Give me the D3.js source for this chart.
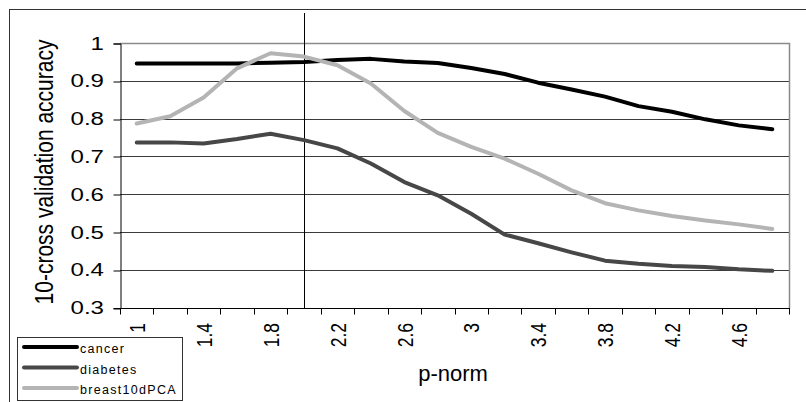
<!DOCTYPE html>
<html>
<head>
<meta charset="utf-8">
<script src="https://cdn.jsdelivr.net/npm/d3@7"></script>
<style>
  body { margin: 0; background: #fff; }
  text { font-family: "Liberation Sans", Arial, sans-serif; fill: #000; }
</style>
</head>
<body>
<div id="chart"></div>
<script>
// data
var pnorm = [1, 1.2, 1.4, 1.6, 1.8, 2, 2.2, 2.4, 2.6, 2.8, 3, 3.2, 3.4, 3.6, 3.8, 4, 4.2, 4.4, 4.6, 4.8];
var cancer = [0.946, 0.946, 0.946, 0.946, 0.948, 0.950, 0.955, 0.958, 0.951, 0.947, 0.934, 0.918, 0.895, 0.877, 0.858, 0.833, 0.818, 0.798, 0.782, 0.772];
var diabetes = [0.737, 0.737, 0.734, 0.746, 0.760, 0.743, 0.721, 0.681, 0.632, 0.597, 0.548, 0.493, 0.470, 0.446, 0.424, 0.416, 0.410, 0.407, 0.401, 0.397];
var breast = [0.787, 0.806, 0.856, 0.933, 0.973, 0.964, 0.941, 0.893, 0.820, 0.762, 0.725, 0.694, 0.654, 0.610, 0.576, 0.557, 0.542, 0.530, 0.520, 0.508];
var yTicks = [0.3, 0.4, 0.5, 0.6, 0.7, 0.8, 0.9, 1];
var seriesNames = ["cancer", "diabetes", "breast10dPCA"];
var markerP = 2; // vertical marker line

var series = [
  {name: seriesNames[0], values: cancer, color: "#000000"},
  {name: seriesNames[1], values: diabetes, color: "#474747"},
  {name: seriesNames[2], values: breast, color: "#b4b4b4"}
];

var width = 806, height = 402;
var margin = {top: 43, right: 17, bottom: 94.5, left: 120};

var svg = d3.select("#chart")
  .append("svg")
    .attr("width", width)
    .attr("height", height);

// outer chart border (runs off the right and bottom edges)
svg.append("rect")
  .attr("x", 9.5).attr("y", 9.5)
  .attr("width", 1000).attr("height", 1000)
  .attr("fill", "none")
  .attr("stroke", "#333");

var x = d3.scaleBand()
  .domain(pnorm)
  .range([margin.left, width - margin.right])
  .padding(0);

var y = d3.scaleLinear()
  .domain([0.3, 1])
  .range([height - margin.bottom, margin.top]);

var cx = d => x(d) + x.bandwidth() / 2;

// gridlines
svg.append("g")
  .selectAll("line")
  .data(yTicks.filter(t => t > 0.3 && t < 1))
  .join("line")
    .attr("x1", margin.left)
    .attr("x2", width - margin.right)
    .attr("y1", d => Math.round(y(d)) + 0.5)
    .attr("y2", d => Math.round(y(d)) + 0.5)
    .attr("stroke", "#3a3a3a");

// plot frame (top and right in grey)
svg.append("path")
  .attr("d", "M" + margin.left + "," + (Math.round(y(1)) + 0.5) +
             "H" + (width - margin.right + 0.5) +
             "V" + (Math.round(y(0.3)) + 0.5))
  .attr("fill", "none")
  .attr("stroke", "#8a8a8a")
  .attr("stroke-width", 1.5);

// marker line at p = 2
svg.append("line")
  .attr("x1", Math.round(cx(markerP)) + 0.5)
  .attr("x2", Math.round(cx(markerP)) + 0.5)
  .attr("y1", 13)
  .attr("y2", Math.round(y(0.3)))
  .attr("stroke", "#000");

// y axis
var yAxis = svg.append("g")
  .attr("transform", "translate(" + (margin.left + 0.5) + ",0.5)")
  .call(d3.axisLeft(y).tickValues(yTicks).tickSize(7).tickFormat(d3.format("")));
yAxis.select(".domain").attr("stroke", "#000");
yAxis.selectAll(".tick line").attr("stroke", "#000").attr("transform", d => "translate(0," + (Math.round(y(d)) - y(d)) + ")");
yAxis.selectAll(".tick text").remove();

svg.append("g")
  .selectAll("text")
  .data(yTicks)
  .join("text")
    .attr("transform", d => "translate(104," + y(d) + ") scale(1.3,1)")
    .attr("dy", "0.36em")
    .attr("text-anchor", "end")
    .attr("font-size", 18.5)
    .text(d => d3.format("")(d));

// x axis, ticks on category boundaries
var xAxisY = Math.round(y(0.3)) + 0.5;
var bounds = pnorm.map(d => x(d)).concat([width - margin.right]);
svg.append("line")
  .attr("x1", margin.left).attr("x2", width - margin.right + 1)
  .attr("y1", xAxisY).attr("y2", xAxisY)
  .attr("stroke", "#000");
svg.append("g")
  .selectAll("line")
  .data(bounds)
  .join("line")
    .attr("x1", d => Math.round(d) + 0.5)
    .attr("x2", d => Math.round(d) + 0.5)
    .attr("y1", xAxisY)
    .attr("y2", xAxisY + 6)
    .attr("stroke", "#000");

svg.append("g")
  .selectAll("text")
  .data(pnorm.filter((d, i) => i % 2 === 0))
  .join("text")
    .attr("transform", d => "translate(" + cx(d) + ",323) rotate(-90) scale(1,1.3)")
    .attr("dy", "0.36em")
    .attr("text-anchor", "end")
    .attr("font-size", 17.5)
    .text(d => d);

// axis titles
svg.append("text")
  .attr("transform", "translate(53,172) rotate(-90) scale(1,1.2)")
  .attr("text-anchor", "middle")
  .attr("font-size", 21)
  .text("10-cross validation accuracy");

svg.append("text")
  .attr("x", 453)
  .attr("y", 381)
  .attr("text-anchor", "middle")
  .attr("font-size", 22)
  .text("p-norm");

// lines
var line = d3.line()
  .x((d, i) => cx(pnorm[i]))
  .y(d => y(d));

svg.append("g")
  .selectAll("path")
  .data(series)
  .join("path")
    .attr("d", d => line(d.values))
    .attr("fill", "none")
    .attr("stroke", d => d.color)
    .attr("stroke-width", 4)
    .attr("stroke-linejoin", "round")
    .attr("stroke-linecap", "round");

// legend
var legend = svg.append("g");
legend.append("rect")
  .attr("x", 17.5).attr("y", 337.5)
  .attr("width", 165).attr("height", 63)
  .attr("fill", "#fff")
  .attr("stroke", "#333");

var item = legend.selectAll("g.item")
  .data(series)
  .join("g")
    .attr("class", "item")
    .attr("transform", (d, i) => "translate(0," + (347 + i * 20.5) + ")");

item.append("line")
  .attr("x1", 24).attr("x2", 77)
  .attr("stroke", d => d.color)
  .attr("stroke-width", 4)
  .attr("stroke-linecap", "round");

item.append("text")
  .attr("x", 80)
  .attr("y", 6)
  .attr("font-size", 12.5)
  .attr("letter-spacing", 1.3)
  .text(d => d.name);
</script>
</body>
</html>
